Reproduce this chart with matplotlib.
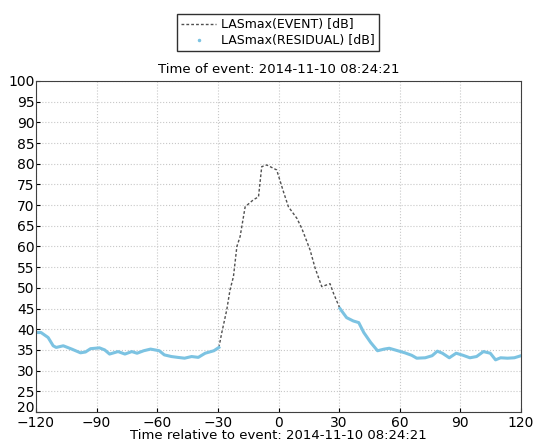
import numpy as np
import matplotlib
matplotlib.use("Agg")
import matplotlib.pyplot as plt
import matplotlib.transforms as mtransforms
from matplotlib.lines import Line2D

# residual level before the event (s, dB)
res_before_t = [-120, -117.5, -114, -111.5, -110, -106.5, -102.3, -98, -95.5, -93, -88.6, -86,
                -83.6, -79.4, -76, -72.6, -70, -66.7, -63.3, -59, -56.5, -53, -49.9, -46.5,
                -43, -39.7, -36.3, -32, -29.5]
res_before_db = [39.2, 39.2, 38, 36, 35.6, 36, 35.2, 34.3, 34.5, 35.3, 35.5, 35, 34, 34.6, 34,
                 34.6, 34.2, 34.8, 35.2, 34.8, 33.8, 33.4, 33.2, 33, 33.4, 33.2, 34.2, 34.8, 35.6]

# event
event_t = [-29.5, -28.1, -25.6, -24, -22.3, -20.6, -19, -16.5, -12.4, -9.9, -8.3, -5.8, -0.9,
           2.4, 4.9, 9.1, 11.5, 15.6, 18.1, 21.4, 25.5, 27.2, 30.4]
event_db = [35.6, 39.1, 44.7, 49.5, 52.7, 60, 62.4, 69.6, 71.3, 72, 79.3, 79.7, 78.5,
            73.3, 69.6, 66.8, 64.4, 59.2, 54.8, 50.3, 51, 48.7, 45]

# residual level after the event
res_after_t = [30.4, 33.7, 37, 39.7, 42.2, 45.6, 49, 52.3, 54.8, 59, 62.5, 65.9, 68.4, 72.6,
               76, 78.6, 81.1, 84.5, 87.9, 91.3, 94.7, 98, 101.4, 104.8, 107.4, 109.9, 113.3,
               116.7, 120]
res_after_db = [45, 42.8, 42, 41.6, 39.2, 36.8, 34.8, 35.2, 35.4, 34.8, 34.3, 33.7, 33, 33.1,
                33.6, 34.7, 34.2, 33.1, 34.2, 33.7, 33.1, 33.4, 34.6, 34.2, 32.6, 33.1, 33,
                33.1, 33.6]

event_time = "2014-11-10 08:24:21"
blue = "#7cc3e2"

fig = plt.figure(figsize=(5.34, 4.45), dpi=100)
ax = fig.add_axes([0.0674, 0.0742, 0.9083, 0.7438])

ev, = ax.plot(event_t, event_db, color="#505050", lw=1.0, ls=(0, (2, 1.5)),
              label="LASmax(EVENT) [dB]")
res, = ax.plot(res_before_t, res_before_db, color=blue, lw=2.2,
               label="LASmax(RESIDUAL) [dB]")
ax.plot(res_after_t, res_after_db, color=blue, lw=2.2)

ax.set_xlim(-120, 120)
ax.set_ylim(20, 100)
ax.set_xticks(np.arange(-120, 121, 30))
ax.set_yticks(np.arange(20, 101, 5))
ax.tick_params(direction="in", labelsize=10, length=3)
ax.tick_params(axis="y", pad=1)
ax.tick_params(axis="x", pad=3)
ax.grid(True, color="#c8c8c8", ls=":", lw=0.8)
for s in ax.spines.values():
    s.set_color("#404040")
    s.set_linewidth(0.8)

# nudge the lowest y label up a little so it clears "-120"
lab = ax.get_yticklabels()[0]
lab.set_transform(lab.get_transform() +
                  mtransforms.ScaledTranslation(0, 4 / 72, fig.dpi_scale_trans))

ax.set_xlabel("Time relative to event: " + event_time, fontsize=9.5, labelpad=-1)
ax.set_title("Time of event: " + event_time, fontsize=9.5, pad=6)

res_handle = Line2D([], [], color=blue, ls="none", marker=".", markersize=3)
fig.legend([ev, res_handle], [ev.get_label(), res.get_label()],
           loc="center", bbox_to_anchor=(0.521, 0.927), fontsize=9,
           frameon=True, fancybox=False, edgecolor="#303030", framealpha=1,
           handlelength=2.8, borderpad=0.35, labelspacing=0.25, handletextpad=0.4)

fig.savefig("out.png", dpi=100)
